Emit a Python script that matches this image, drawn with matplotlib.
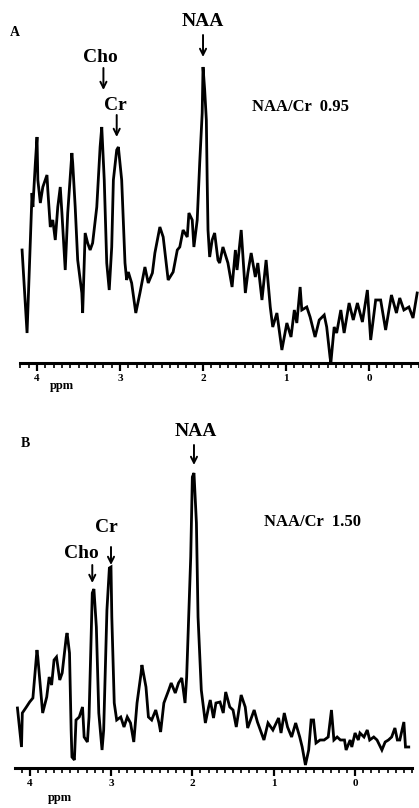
import numpy as np
import matplotlib
matplotlib.use("Agg")
import matplotlib.pyplot as plt

plt.rcParams['font.family'] = ['Liberation Serif', 'DejaVu Serif']

# spectrum A (ppm, amplitude in arbitrary units)
ppm_a = [4.18, 4.12, 4.08, 4.06, 4.05, 4.02, 4.00, 3.99, 3.96, 3.93, 3.88, 3.87, 3.84, 3.81,
         3.78, 3.75, 3.72, 3.70, 3.66, 3.63, 3.58, 3.57, 3.54, 3.51, 3.46, 3.45, 3.42, 3.39,
         3.36, 3.33, 3.28, 3.24, 3.22, 3.19, 3.16, 3.13, 3.10, 3.08, 3.04, 3.02, 2.98, 2.94,
         2.92, 2.90, 2.86, 2.81, 2.76, 2.70, 2.66, 2.61, 2.58, 2.52, 2.48, 2.42, 2.36, 2.31,
         2.28, 2.24, 2.19, 2.17, 2.13, 2.11, 2.07, 2.04, 2.01, 2.00, 1.98, 1.96, 1.95, 1.94,
         1.92, 1.89, 1.86, 1.82, 1.80, 1.76, 1.70, 1.65, 1.61, 1.59, 1.54, 1.49, 1.46, 1.42,
         1.37, 1.34, 1.29, 1.24, 1.19, 1.16, 1.11, 1.05, 0.99, 0.94, 0.90, 0.87, 0.83, 0.81,
         0.75, 0.71, 0.65, 0.60, 0.54, 0.51, 0.47, 0.46, 0.42, 0.39, 0.34, 0.30, 0.24, 0.19,
         0.14, 0.08, 0.02, -0.02, -0.08, -0.14, -0.20, -0.27, -0.33, -0.37, -0.42, -0.48,
         -0.53, -0.58]
amp_a = [113, 30, 123, 170, 156, 200, 226, 183, 160, 176, 188, 173, 136, 143,
         123, 156, 176, 150, 93, 150, 210, 200, 156, 103, 70, 50, 130, 120,
         113, 120, 156, 216, 236, 183, 100, 73, 116, 183, 213, 216, 183, 100,
         83, 91, 80, 50, 70, 96, 80, 90, 110, 136, 126, 83, 91, 113,
         116, 133, 126, 150, 143, 116, 143, 200, 250, 296, 273, 243, 183, 133,
         106, 123, 130, 103, 100, 116, 100, 76, 113, 93, 133, 70, 90, 110,
         86, 100, 63, 103, 56, 36, 50, 13, 40, 26, 53, 40, 76, 53,
         56, 46, 26, 43, 48, 36, 6, 0, 36, 30, 53, 30, 60, 43,
         60, 41, 73, 23, 63, 63, 33, 68, 50, 65, 53, 56,
         45, 70]

# spectrum B
ppm_b = [4.15, 4.10, 4.09, 4.04, 4.00, 3.96, 3.91, 3.90, 3.85, 3.84, 3.79, 3.76, 3.73, 3.70,
         3.67, 3.63, 3.60, 3.55, 3.54, 3.51, 3.49, 3.48, 3.45, 3.43, 3.39, 3.35, 3.33, 3.29,
         3.27, 3.23, 3.21, 3.18, 3.15, 3.11, 3.09, 3.05, 3.02, 3.00, 2.99, 2.96, 2.93, 2.88,
         2.84, 2.80, 2.76, 2.72, 2.68, 2.63, 2.62, 2.57, 2.54, 2.50, 2.45, 2.41, 2.39, 2.35,
         2.29, 2.26, 2.21, 2.17, 2.13, 2.09, 2.07, 2.02, 2.00, 1.98, 1.95, 1.93, 1.89, 1.84,
         1.80, 1.78, 1.74, 1.71, 1.66, 1.62, 1.59, 1.54, 1.50, 1.46, 1.40, 1.35, 1.32, 1.24,
         1.20, 1.12, 1.07, 1.01, 0.94, 0.91, 0.87, 0.83, 0.78, 0.73, 0.68, 0.65, 0.61, 0.57,
         0.54, 0.51, 0.48, 0.43, 0.38, 0.33, 0.29, 0.26, 0.22, 0.18, 0.13, 0.11, 0.06, 0.04,
         0.00, -0.04, -0.06, -0.11, -0.15, -0.18, -0.23, -0.27, -0.33, -0.37, -0.41, -0.45,
         -0.49, -0.52, -0.55, -0.60, -0.62, -0.66]
amp_b = [60, 21, 55, 61, 66, 70, 118, 111, 65, 55, 71, 91, 83, 108,
         111, 88, 95, 131, 135, 115, 38, 11, 8, 48, 51, 61, 31, 26,
         51, 175, 179, 141, 55, 18, 38, 158, 200, 201, 151, 65, 48, 51,
         41, 51, 45, 26, 65, 95, 103, 81, 51, 48, 58, 45, 36, 65,
         78, 85, 75, 85, 90, 65, 91, 211, 291, 295, 245, 151, 78, 45,
         61, 68, 50, 65, 66, 55, 76, 61, 58, 41, 73, 61, 40, 58,
         46, 28, 45, 38, 50, 35, 55, 41, 31, 45, 31, 21, 3, 18,
         48, 48, 25, 28, 28, 31, 58, 28, 31, 28, 28, 18, 28, 21,
         35, 28, 35, 31, 38, 28, 31, 28, 18, 26, 28, 31,
         40, 28, 28, 46, 21, 21]

major_ticks = [4, 3, 2, 1, 0]
ratio_a = "NAA/Cr  0.95"
ratio_b = "NAA/Cr  1.50"

W, H = 419, 808
fig = plt.figure(figsize=(W / 100, H / 100), dpi=100)


def panel(rect_px, xlim, ppm, amp):
    x0, y_top, x1, y_base = rect_px
    ax = fig.add_axes([x0 / W, 1 - y_base / H, (x1 - x0) / W, (y_base - y_top) / H])
    ax.plot(ppm, amp, color='black', lw=2.0, clip_on=False, solid_joinstyle='miter')
    ax.set_xlim(xlim)
    ax.set_ylim(0, y_base - y_top)
    for s in ['top', 'left', 'right']:
        ax.spines[s].set_visible(False)
    ax.spines['bottom'].set_linewidth(2.2)
    ax.set_yticks([])
    ax.set_xticks(major_ticks)
    ax.set_xticklabels([str(t) for t in major_ticks], fontsize=8, fontweight='bold')
    minor = np.round(np.arange(xlim[1], xlim[0], 0.1), 1)
    ax.set_xticks(minor, minor=True)
    ax.tick_params(axis='x', which='major', direction='out', length=6, width=1.6, pad=2)
    ax.tick_params(axis='x', which='minor', direction='out', length=3.5, width=1.2)
    ax.patch.set_visible(False)
    return ax


def arrow(ax, x, y_tail, y_tip):
    ax.annotate('', xy=(x, y_tip), xytext=(x, y_tail),
                arrowprops=dict(arrowstyle='->', lw=1.4, color='black',
                                shrinkA=0, shrinkB=0, mutation_scale=11))


lab = dict(ha='center', va='center', fontsize=14, fontweight='bold')

# panel A
ax_a = panel((20, 0, 419, 363), (4.205, -0.602), ppm_a, amp_a)
ax_a.text(2.0, 341, 'NAA', **lab)
arrow(ax_a, 2.0, 328, 306)
ax_a.text(3.24, 305, 'Cho', **lab)
arrow(ax_a, 3.20, 295, 273)
ax_a.text(3.06, 258, 'Cr', **lab)
arrow(ax_a, 3.04, 248, 226)
ax_a.text(0.83, 256, ratio_a, ha='center', va='center', fontsize=12, fontweight='bold')
fig.text(15 / W, 1 - 33 / H, 'A', ha='center', va='center', fontsize=10, fontweight='bold')
fig.text(62 / W, 1 - 386 / H, 'ppm', ha='center', va='center', fontsize=9, fontweight='bold')

# panel B
ax_b = panel((15, 404, 412, 768), (4.18, -0.66), ppm_b, amp_b)
ax_b.text(1.96, 336, 'NAA', **lab)
arrow(ax_b, 1.98, 323, 303)
ax_b.text(3.06, 241, 'Cr', **lab)
arrow(ax_b, 3.0, 221, 203)
ax_b.text(3.37, 215, 'Cho', **lab)
arrow(ax_b, 3.23, 203, 185)
ax_b.text(0.52, 246, ratio_b, ha='center', va='center', fontsize=12, fontweight='bold')
fig.text(25 / W, 1 - 443 / H, 'B', ha='center', va='center', fontsize=10, fontweight='bold')
fig.text(60 / W, 1 - 798 / H, 'ppm', ha='center', va='center', fontsize=9, fontweight='bold')

fig.savefig('out.png', dpi=100)
